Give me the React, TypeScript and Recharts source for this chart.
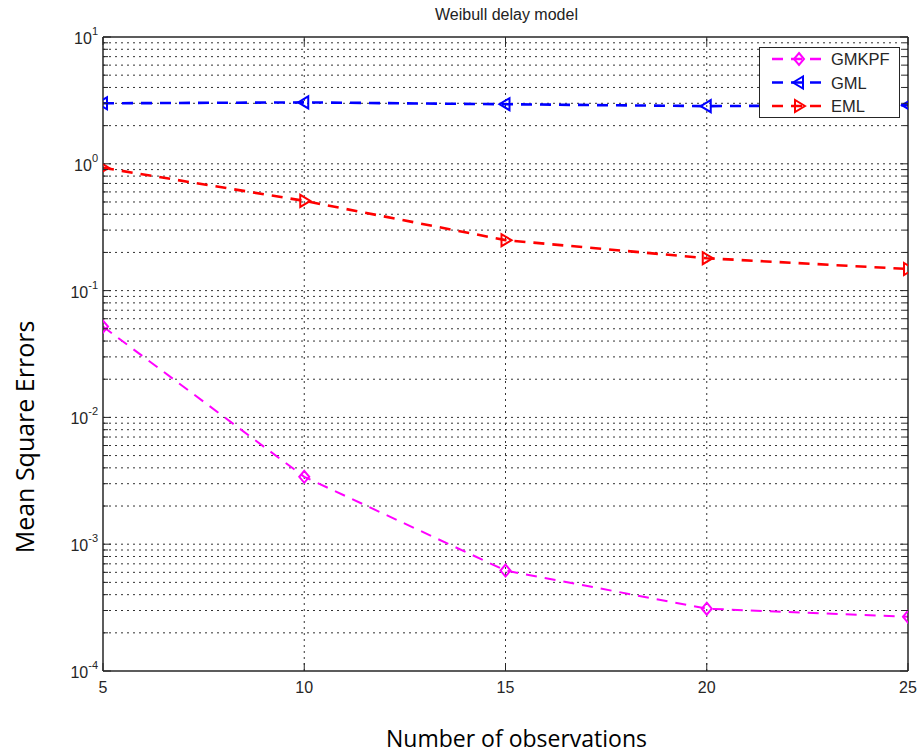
import React from 'react';
import { LineChart, Line, XAxis, YAxis, ReferenceLine } from 'recharts';

const observations = [5, 10, 15, 20, 25];
const gmkpf = [0.052, 0.0034, 0.00062, 0.00031, 0.000268];
const gml = [3.0, 3.05, 2.95, 2.85, 2.9];
const eml = [0.93, 0.51, 0.25, 0.18, 0.148];

const xTicks = [5, 10, 15, 20, 25];
const yDecades = [0.0001, 0.001, 0.01, 0.1, 1, 10];
const yExponents = ['-4', '-3', '-2', '-1', '0', '1'];
const minorSteps = [2, 3, 4, 5, 6, 7, 8, 9];

const data = observations.map((n, i) => ({
  n,
  GMKPF: gmkpf[i],
  GML: gml[i],
  EML: eml[i],
}));

const yGridValues: number[] = [];
yDecades.slice(0, -1).forEach((d) => {
  if (d > yDecades[0]) yGridValues.push(d);
  minorSteps.forEach((k) => yGridValues.push(+(k * d).toPrecision(3)));
});
const yAllTicks = [...yDecades, ...yGridValues.filter((v) => !yDecades.includes(v))];

const AXIS = '#262626';
const TICK_FONT = '"Liberation Sans", Arial, sans-serif';

const SERIES = [
  { key: 'GMKPF', color: '#ff00ff', shape: 'diamond', width: 2 },
  { key: 'GML', color: '#0000ff', shape: 'left', width: 2.6 },
  { key: 'EML', color: '#ff0000', shape: 'right', width: 2.6 },
];

function Marker({ cx, cy, shape, color }: any) {
  if (cx == null || cy == null) return null;
  let d = '';
  if (shape === 'diamond') {
    d = `M${cx},${cy - 6} L${cx + 5},${cy} L${cx},${cy + 6} L${cx - 5},${cy} Z`;
  } else if (shape === 'left') {
    d = `M${cx - 6},${cy} L${cx + 4},${cy - 6} L${cx + 4},${cy + 6} Z`;
  } else {
    d = `M${cx + 6},${cy} L${cx - 4},${cy - 6} L${cx - 4},${cy + 6} Z`;
  }
  return <path d={d} fill="none" stroke={color} strokeWidth={2} />;
}

function LeftTick({ x, y, payload }: any) {
  const idx = yDecades.indexOf(payload.value);
  const major = idx >= 0;
  return (
    <g>
      <line x1={x} x2={x + (major ? 8 : 5)} y1={y} y2={y} stroke={AXIS} strokeWidth={1} />
      {major && (
        <text x={x - 5} y={y + 7} textAnchor="end" fontFamily={TICK_FONT} fontSize={16} fill={AXIS}>
          10
          <tspan dy={-9} fontSize={11}>
            {yExponents[idx]}
          </tspan>
        </text>
      )}
    </g>
  );
}

function RightTick({ x, y, payload }: any) {
  const major = yDecades.includes(payload.value);
  return <line x1={x} x2={x - (major ? 8 : 5)} y1={y} y2={y} stroke={AXIS} strokeWidth={1} />;
}

function BottomTick({ x, y, payload }: any) {
  return (
    <g>
      <line x1={x} x2={x} y1={y} y2={y - 8} stroke={AXIS} strokeWidth={1} />
      <text x={x} y={y + 22} textAnchor="middle" fontFamily={TICK_FONT} fontSize={16} fill={AXIS}>
        {payload.value}
      </text>
    </g>
  );
}

function TopTick({ x, y }: any) {
  return <line x1={x} x2={x} y1={y} y2={y + 8} stroke={AXIS} strokeWidth={1} />;
}

function LegendBox() {
  return (
    <div
      style={{
        position: 'absolute',
        left: 759,
        top: 47,
        width: 139,
        height: 69,
        border: `1.5px solid ${AXIS}`,
        background: '#fff',
        zIndex: 2,
      }}
    >
      <svg width={139} height={69} style={{ display: 'block' }}>
        {SERIES.map((s, i) => {
          const cy = 11 + i * 23.5;
          return (
            <g key={s.key}>
              <line x1={12} x2={64} y1={cy} y2={cy} stroke={s.color} strokeWidth={2.6} strokeDasharray="11 8" />
              <Marker cx={39} cy={cy} shape={s.shape} color={s.color} />
              <text x={71} y={cy + 6} fontFamily={TICK_FONT} fontSize={16.5} fill={AXIS}>
                {s.key}
              </text>
            </g>
          );
        })}
      </svg>
    </div>
  );
}

export default function App() {
  return (
    <div
      style={{
        position: 'absolute',
        left: 0,
        top: 0,
        width: 924,
        height: 755,
        background: '#fff',
      }}
    >
      <div
        style={{
          position: 'absolute',
          left: 105,
          width: 803,
          top: 6,
          textAlign: 'center',
          fontFamily: TICK_FONT,
          fontSize: 16,
          color: '#222',
        }}
      >
        Weibull delay model
      </div>
      <div
        style={{
          position: 'absolute',
          left: 115,
          width: 803,
          top: 722,
          textAlign: 'center',
          fontFamily: '"Open Sans", sans-serif',
          fontSize: 23,
          color: '#000',
        }}
      >
        Number of observations
      </div>
      <div
        style={{
          position: 'absolute',
          left: 24,
          top: 437,
          transform: 'translate(-50%, -50%) rotate(-90deg)',
          whiteSpace: 'nowrap',
          fontFamily: '"Open Sans", sans-serif',
          fontSize: 25,
          color: '#000',
        }}
      >
        Mean Square Errors
      </div>
      <LineChart
        width={924}
        height={755}
        data={data}
        margin={{ top: 7, right: 6, bottom: 54, left: 43 }}
        style={{ position: 'absolute', left: 0, top: 0 }}
      >
        <XAxis
          dataKey="n"
          type="number"
          domain={[5, 25]}
          ticks={xTicks}
          allowDataOverflow
          height={30}
          tickSize={0}
          tickMargin={0}
          tickLine={false}
          axisLine={{ stroke: AXIS, strokeWidth: 1.5 }}
          tick={<BottomTick />}
          interval={0}
        />
        <XAxis
          xAxisId="top"
          orientation="top"
          dataKey="n"
          type="number"
          domain={[5, 25]}
          ticks={xTicks}
          allowDataOverflow
          height={30}
          tickSize={0}
          tickMargin={0}
          tickLine={false}
          axisLine={{ stroke: AXIS, strokeWidth: 1.5 }}
          tick={<TopTick />}
          interval={0}
        />
        <YAxis
          scale="log"
          type="number"
          domain={[0.0001, 10]}
          ticks={yAllTicks}
          allowDataOverflow
          width={60}
          tickSize={0}
          tickMargin={0}
          tickLine={false}
          axisLine={{ stroke: AXIS, strokeWidth: 1.5 }}
          tick={<LeftTick />}
          interval={0}
        />
        <YAxis
          yAxisId="right"
          orientation="right"
          scale="log"
          type="number"
          domain={[0.0001, 10]}
          ticks={yAllTicks}
          allowDataOverflow
          width={10}
          tickSize={0}
          tickMargin={0}
          tickLine={false}
          axisLine={{ stroke: AXIS, strokeWidth: 1.5 }}
          tick={<RightTick />}
          interval={0}
        />
        {yGridValues.map((v) => (
          <ReferenceLine key={`y${v}`} y={v} stroke="#333" strokeWidth={1} strokeDasharray="2 4" />
        ))}
        {xTicks.slice(1, -1).map((v) => (
          <ReferenceLine key={`x${v}`} x={v} stroke="#333" strokeWidth={1} strokeDasharray="2 4" />
        ))}
        {SERIES.map((s) => (
          <Line
            key={s.key}
            dataKey={s.key}
            stroke={s.color}
            strokeWidth={s.width}
            strokeDasharray="11 8"
            isAnimationActive={false}
            dot={(p: any) => <Marker key={`${s.key}${p.index}`} cx={p.cx} cy={p.cy} shape={s.shape} color={s.color} />}
            activeDot={false}
          />
        ))}
      </LineChart>
      <LegendBox />
    </div>
  );
}
